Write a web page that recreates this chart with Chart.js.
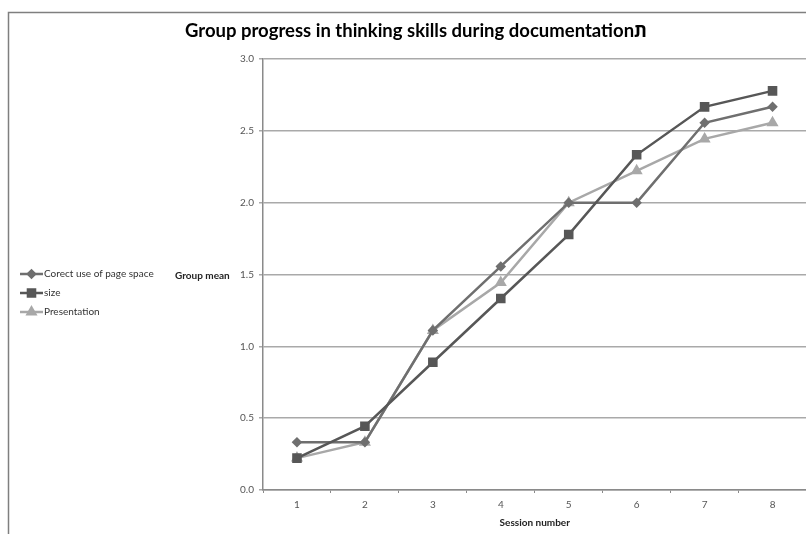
<!DOCTYPE html>
<html>
<head>
<meta charset="utf-8">
<script src="https://cdn.jsdelivr.net/npm/chart.js@4/dist/chart.umd.min.js"></script>
<style>
html,body{margin:0;padding:0;background:#fff;overflow:hidden;}
#wrap{position:relative;width:806px;height:534px;overflow:hidden;}
</style>
</head>
<body>
<div id="wrap"><canvas id="c" width="814" height="534"></canvas></div>
<script>
const titleText = "Group progress in thinking skills during documentationת";
const xTitle = "Session number";
const yTitle = "Group mean";
const sessions = ["1","2","3","4","5","6","7","8"];
const pageSpace = [0.333,0.333,1.111,1.556,2.0,2.0,2.556,2.667];
const sizeVals = [0.222,0.444,0.889,1.333,1.778,2.333,2.667,2.778];
const presentation = [0.222,0.333,1.111,1.444,2.0,2.222,2.444,2.556];
const seriesNames = ["Corect use of page space","size","Presentation"];

const FONT = "Lato, 'Open Sans', sans-serif";
const colors = ["#6f6f6f","#575757","#a8a8a8"];
const styles = ["rectRot","rect","triangle"];
const radii = [3.5,5,4.5];

const decor = {
  id:'decor',
  afterDraw(chart){
    const ctx = chart.ctx;
    ctx.save();
    ctx.strokeStyle = "#7f7f7f";
    ctx.lineWidth = 1.5;
    ctx.beginPath();
    ctx.moveTo(8.5, 534);
    ctx.lineTo(8.5, 12.5);
    ctx.lineTo(814, 12.5);
    ctx.stroke();
    ctx.fillStyle = "#000";
    ctx.font = "bold 18.5px " + FONT;
    ctx.textAlign = "center";
    ctx.textBaseline = "middle";
    ctx.fillText(titleText, 416, 31);
    ctx.font = "bold 10px " + FONT;
    ctx.fillStyle = "#222";
    ctx.textAlign = "left";
    ctx.fillText(yTitle, 175, 276);
    ctx.font = "10px " + FONT;
    const ys = [274, 293, 312];
    chart.data.datasets.forEach((ds, i) => {
      const y = ys[i];
      ctx.strokeStyle = ds.borderColor;
      ctx.lineWidth = 2.5;
      ctx.beginPath();
      ctx.moveTo(20, y);
      ctx.lineTo(43, y);
      ctx.stroke();
      Chart.helpers.drawPoint(ctx, {pointStyle: ds.pointStyle, radius: ds.pointRadius, borderWidth: 1, rotation: 0}, 31.5, y);
      ctx.fillStyle = ds.borderColor;
      ctx.fill();
      ctx.fillStyle = "#333";
      ctx.fillText(ds.label, 44, y);
    });
    ctx.restore();
  }
};

const datasets = [pageSpace, sizeVals, presentation].map((d, i) => ({
  label: seriesNames[i],
  data: d,
  borderColor: colors[i],
  backgroundColor: colors[i],
  pointBackgroundColor: colors[i],
  pointBorderColor: colors[i],
  pointStyle: styles[i],
  pointRadius: radii[i],
  pointHoverRadius: radii[i],
  borderWidth: 2.5,
  tension: 0
}));
datasets[0].order = 2; datasets[1].order = 1; datasets[2].order = 3;

new Chart(document.getElementById('c'), {
  type: 'line',
  data: { labels: sessions, datasets },
  options: {
    responsive: false,
    animation: false,
    events: [],
    layout: { padding: { left: 213, top: 59, right: 0, bottom: 0 } },
    plugins: { legend: { display: false }, title: { display: false }, tooltip: { enabled: false } },
    scales: {
      x: {
        offset: true,
        grid: { offset: true, drawOnChartArea: false, drawTicks: true, tickLength: 3, color: "#8a8a8a" },
        border: { color: "#8a8a8a", width: 1.5 },
        ticks: { color: "#555", font: { family: FONT, size: 10 }, padding: 6 },
        title: { display: true, text: xTitle, color: "#222", font: { family: FONT, size: 10, weight: 'bold' }, padding: { top: 4, bottom: 5 } },
        afterFit(s){ s.height = 44; }
      },
      y: {
        min: 0, max: 3,
        ticks: { stepSize: 0.5, color: "#555", font: { family: FONT, size: 10 }, padding: 5, callback: v => v.toFixed(1) },
        grid: { color: "#a9a9a9", lineWidth: 1.5, tickLength: 4, drawTicks: true },
        border: { color: "#8a8a8a", width: 1.5 },
        afterFit(s){ s.width = 50; }
      }
    }
  },
  plugins: [decor]
});
</script>
</body>
</html>
